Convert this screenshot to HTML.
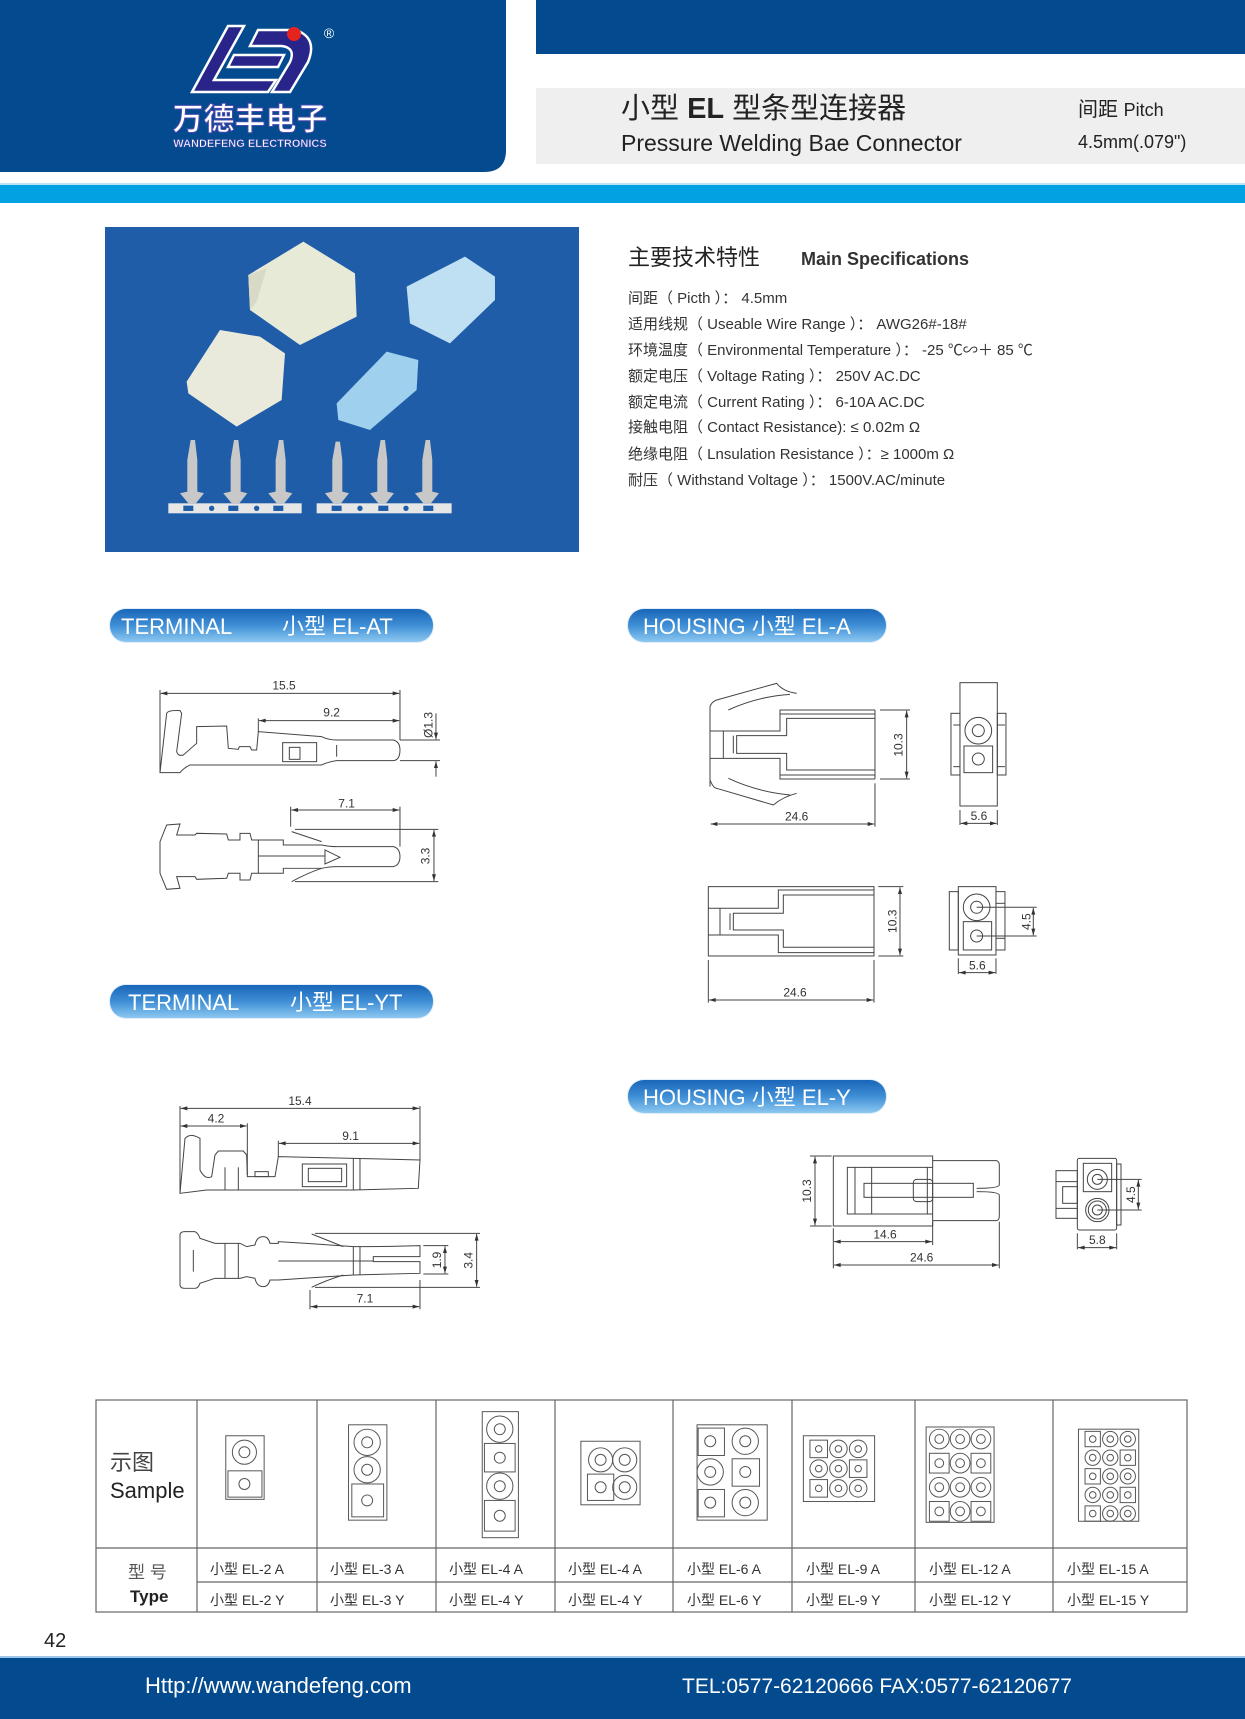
<!DOCTYPE html>
<html><head><meta charset="utf-8">
<style>
html,body{margin:0;padding:0;background:#fff;}
svg{display:block;font-family:"Liberation Sans","Noto Sans CJK SC",sans-serif;}
</style></head><body>
<svg width="1245" height="1719" viewBox="0 0 1245 1719" xmlns="http://www.w3.org/2000/svg">
<defs>
<linearGradient id="pill" x1="0" y1="0" x2="0" y2="1">
<stop offset="0" stop-color="#1a66b8"/><stop offset="0.5" stop-color="#3f8fd6"/><stop offset="1" stop-color="#8cc8f0"/>
</linearGradient>
<marker id="a" viewBox="0 0 10 6" refX="10" refY="3" markerWidth="8" markerHeight="4" orient="auto-start-reverse" markerUnits="strokeWidth">
<path d="M0,0 L10,3 L0,6 Z" fill="#333"/></marker>
</defs>

<!-- HEADER -->
<path d="M0,0 H506 V150 Q506,172 484,172 H0 Z" fill="#034a8f"/>
<rect x="536" y="0" width="709" height="54" fill="#034a8f"/>
<rect x="536" y="88" width="709" height="76" fill="#efefef"/>
<rect x="0" y="183" width="1245" height="2" fill="#bfe3f5"/>
<rect x="0" y="185" width="1245" height="18" fill="#00a2e2"/>
<!-- logo -->
<g>
<path d="M228,26 L192,92 L268,92 L276,80 L214,80 L244,26 Z" fill="#28248a" stroke="#fff" stroke-width="2.5"/>
<path d="M258,30 L296,30 Q318,38 308,62 L290,92 L272,92 L290,62 Q296,48 282,46 L250,46 Z" fill="#28248a" stroke="#fff" stroke-width="2.5"/>
<path d="M234,55 L284,55 L278,67 L228,67 Z" fill="#28248a" stroke="#fff" stroke-width="2.5"/>
<circle cx="294" cy="34" r="7" fill="#e52420"/>
<text x="329" y="38" font-size="14" fill="#fff" text-anchor="middle">®</text>
<text x="250" y="130" font-size="31" font-weight="bold" fill="#fff" stroke="#4a4ab0" stroke-width="1" text-anchor="middle">万德丰电子</text>
<text x="250" y="147" font-size="11" font-weight="bold" fill="#fff" stroke="#4a4ab0" stroke-width="0.5" text-anchor="middle">WANDEFENG ELECTRONICS</text>
</g>
<text x="621" y="118" font-size="29" fill="#222">小型 <tspan font-weight="bold">EL</tspan> 型条型连接器</text>
<text x="621" y="151" font-size="23" fill="#222">Pressure Welding Bae Connector</text>
<text x="1078" y="116" font-size="20" fill="#222">间距 <tspan font-size="18">Pitch</tspan></text>
<text x="1078" y="148" font-size="18" fill="#222">4.5mm(.079")</text>

<!-- PHOTO -->
<rect x="105" y="227" width="474" height="325" fill="#1f5da8"/>
<g transform="translate(100,220) scale(0.3333)">
<polygon points="445,165 610,65 765,160 770,290 600,375 450,270" fill="#e8ead8"/>
<polygon points="445,165 500,145 470,245 450,270" fill="#d8dac6"/>
<polygon points="260,485 360,330 480,350 555,400 545,540 410,620 265,520" fill="#eaeadc"/>
<polygon points="920,200 1095,110 1185,170 1185,240 1050,370 930,310" fill="#bfe0f2"/>
<polygon points="710,550 860,395 955,420 950,510 810,630 715,600" fill="#9fd0ee"/>
<rect x="205" y="850" width="400" height="30" fill="#e6e6e6"/>
<rect x="650" y="850" width="405" height="30" fill="#e6e6e6"/>
<g fill="#1f5da8"><rect x="250" y="857" width="30" height="16"/><rect x="385" y="857" width="30" height="16"/><rect x="520" y="857" width="30" height="16"/><rect x="695" y="857" width="30" height="16"/><rect x="835" y="857" width="30" height="16"/><rect x="970" y="857" width="30" height="16"/>
<circle cx="335" cy="865" r="8"/><circle cx="470" cy="865" r="8"/><circle cx="780" cy="865" r="8"/><circle cx="918" cy="865" r="8"/></g>
<g fill="#c8c8c8">
<path d="M265,850 L240,820 L262,815 L262,720 L272,660 L285,660 L292,720 L292,815 L312,820 L288,850Z"/>
<path d="M395,850 L370,820 L392,815 L392,720 L402,660 L415,660 L422,720 L422,815 L442,820 L418,850Z"/>
<path d="M530,850 L505,820 L527,815 L527,720 L537,660 L550,660 L557,720 L557,815 L577,820 L553,850Z"/>
<path d="M700,850 L675,820 L697,815 L697,720 L707,665 L720,665 L727,720 L727,815 L747,820 L723,850Z"/>
<path d="M835,850 L810,820 L832,815 L832,720 L842,660 L855,660 L862,720 L862,815 L882,820 L858,850Z"/>
<path d="M970,850 L945,820 L967,815 L967,720 L977,660 L990,660 L997,720 L997,815 L1017,820 L993,850Z"/>
</g>
</g>

<!-- SPECS -->
<text x="628" y="265" font-size="22" fill="#222">主要技术特性 <tspan x="801" font-size="18" font-weight="bold" fill="#333">Main Specifications</tspan></text>
<g font-size="15" fill="#333">
<text x="628" y="303">间距（ Picth ）： 4.5mm</text>
<text x="628" y="329">适用线规（ Useable Wire Range ）： AWG26#-18#</text>
<text x="628" y="355">环境温度（ Environmental Temperature ）： -25 ℃∽＋ 85 ℃</text>
<text x="628" y="381">额定电压（ Voltage Rating ）： 250V AC.DC</text>
<text x="628" y="407">额定电流（ Current Rating ）： 6-10A AC.DC</text>
<text x="628" y="432">接触电阻（ Contact Resistance): ≤ 0.02m Ω</text>
<text x="628" y="459">绝缘电阻（ Lnsulation Resistance ）：≥ 1000m Ω</text>
<text x="628" y="485">耐压（ Withstand Voltage ）： 1500V.AC/minute</text>
</g>

<!-- PILLS -->
<g font-size="22" fill="#fff">
<rect x="109" y="608" width="325" height="35" rx="17" fill="#dfeef9"/>
<rect x="110" y="609" width="323" height="33" rx="16" fill="url(#pill)"/>
<text x="121" y="634">TERMINAL</text><text x="282" y="634">小型  EL-AT</text>
<rect x="627" y="608" width="260" height="35" rx="17" fill="#dfeef9"/>
<rect x="628" y="609" width="258" height="33" rx="16" fill="url(#pill)"/>
<text x="643" y="634">HOUSING  小型  EL-A</text>
<rect x="109" y="984" width="325" height="35" rx="17" fill="#dfeef9"/>
<rect x="110" y="985" width="323" height="33" rx="16" fill="url(#pill)"/>
<text x="128" y="1010">TERMINAL</text><text x="290" y="1010">小型  EL-YT</text>
<rect x="627" y="1079" width="260" height="35" rx="17" fill="#dfeef9"/>
<rect x="628" y="1080" width="258" height="33" rx="16" fill="url(#pill)"/>
<text x="643" y="1105">HOUSING  小型  EL-Y</text>
</g>

<!-- TERMINAL EL-AT -->
<g transform="translate(140,660) scale(0.3333)" fill="none" stroke="#444" stroke-width="3" font-size="36">
<path d="M60,338 L80,160 Q85,150 120,152 L125,160 L110,275 Q115,290 130,285 L170,250 L170,200 L260,198 L265,265 L295,268 L298,260 L330,260 L335,270 L350,270 L355,215 L545,230 Q565,240 590,240 L760,240 Q780,245 780,270 Q780,300 760,302 L590,302 Q565,305 545,315 L150,315 Q130,325 120,338 Z"/>
<rect x="428" y="248" width="102" height="57"/><rect x="448" y="262" width="32" height="36"/>
<line x1="590" y1="255" x2="590" y2="290"/>
<line x1="60" y1="90" x2="60" y2="338"/><line x1="780" y1="90" x2="780" y2="240"/>
<line x1="355" y1="175" x2="355" y2="215"/>
<line x1="62" y1="100" x2="778" y2="100" marker-start="url(#a)" marker-end="url(#a)"/>
<line x1="357" y1="182" x2="778" y2="182" marker-start="url(#a)" marker-end="url(#a)"/>
<line x1="780" y1="240" x2="900" y2="240"/><line x1="780" y1="302" x2="900" y2="302"/>
<line x1="888" y1="160" x2="888" y2="238" marker-end="url(#a)"/><line x1="888" y1="350" x2="888" y2="304" marker-end="url(#a)"/>
<text x="432" y="88" fill="#333" stroke="none" text-anchor="middle">15.5</text>
<text x="575" y="170" fill="#333" stroke="none" text-anchor="middle">9.2</text>
<text transform="translate(878,195) rotate(-90)" fill="#333" stroke="none" text-anchor="middle">Ø1.3</text>
<path d="M60,545 L80,495 L120,492 L110,525 L165,525 L170,520 L260,522 L265,540 L300,540 L300,520 L330,520 L335,540 L430,540 L430,555 L545,555 Q570,560 590,560 L760,560 Q780,565 780,590 Q780,615 760,620 L590,620 Q570,620 545,625 L430,625 L430,640 L335,640 L330,660 L300,660 L300,640 L265,640 L260,655 L170,658 L165,650 L110,650 L120,685 L80,688 L60,640 Z"/>
<line x1="355" y1="540" x2="355" y2="640"/>
<line x1="355" y1="588" x2="555" y2="588"/>
<path d="M555,570 L600,592 L555,612 Z"/>
<path d="M455,515 Q500,530 545,545"/><path d="M455,665 Q500,640 545,625"/>
<line x1="452" y1="440" x2="452" y2="500"/><line x1="780" y1="440" x2="780" y2="560"/>
<line x1="454" y1="450" x2="778" y2="450" marker-start="url(#a)" marker-end="url(#a)"/>
<line x1="465" y1="508" x2="895" y2="508"/><line x1="465" y1="665" x2="895" y2="665"/>
<line x1="882" y1="510" x2="882" y2="663" marker-start="url(#a)" marker-end="url(#a)"/>
<text x="620" y="442" fill="#333" stroke="none" text-anchor="middle">7.1</text>
<text transform="translate(868,588) rotate(-90)" fill="#333" stroke="none" text-anchor="middle">3.3</text>
</g>

<!-- HOUSING EL-A -->
<g transform="translate(690,660) scale(0.3333)" fill="none" stroke="#444" stroke-width="3" font-size="36">
<path d="M555,150 L270,150 L270,213 L60,213"/>
<path d="M555,175 L290,175 L290,227 L140,227 L140,280 L290,280 L290,330 L555,330"/>
<path d="M555,357 L270,357 L270,295 L60,295"/>
<line x1="555" y1="150" x2="555" y2="357"/><line x1="270" y1="162" x2="555" y2="162"/><line x1="270" y1="345" x2="555" y2="345"/>
<line x1="100" y1="213" x2="100" y2="295"/><line x1="130" y1="227" x2="130" y2="280"/>
<path d="M60,380 L60,140 Q65,125 80,120 L260,70 Q280,95 320,100"/>
<path d="M115,150 Q200,110 300,103"/>
<path d="M60,360 Q70,385 80,385 L250,435 Q280,410 320,400"/>
<path d="M115,355 Q200,395 300,405"/>
<line x1="570" y1="150" x2="660" y2="150"/><line x1="570" y1="357" x2="660" y2="357"/>
<line x1="650" y1="152" x2="650" y2="355" marker-start="url(#a)" marker-end="url(#a)"/>
<line x1="555" y1="370" x2="555" y2="500"/>
<line x1="62" y1="492" x2="553" y2="492" marker-start="url(#a)" marker-end="url(#a)"/>
<text transform="translate(638,255) rotate(-90)" fill="#333" stroke="none" text-anchor="middle">10.3</text>
<text x="320" y="482" fill="#333" stroke="none" text-anchor="middle">24.6</text>
<rect x="810" y="68" width="112" height="370"/>
<rect x="783" y="160" width="27" height="185"/><rect x="922" y="160" width="26" height="185"/>
<line x1="790" y1="195" x2="810" y2="195"/><line x1="790" y1="320" x2="810" y2="320"/>
<line x1="922" y1="195" x2="945" y2="195"/><line x1="922" y1="320" x2="945" y2="320"/>
<circle cx="865" cy="212" r="40"/><circle cx="865" cy="212" r="18"/>
<rect x="822" y="258" width="86" height="80"/><circle cx="865" cy="297" r="18"/>
<line x1="810" y1="450" x2="810" y2="495"/><line x1="922" y1="450" x2="922" y2="495"/>
<line x1="812" y1="490" x2="920" y2="490" marker-start="url(#a)" marker-end="url(#a)"/>
<text x="867" y="480" fill="#333" stroke="none" text-anchor="middle">5.6</text>
<rect x="55" y="680" width="497" height="208"/>
<path d="M552,690 L265,690 L265,745 L55,745"/>
<path d="M552,705 L280,705 L280,760 L130,760 L130,810 L280,810 L280,862 L552,862"/>
<path d="M552,878 L265,878 L265,825 L55,825"/>
<line x1="90" y1="745" x2="90" y2="825"/><line x1="120" y1="760" x2="120" y2="810"/>
<line x1="565" y1="680" x2="640" y2="680"/><line x1="565" y1="888" x2="640" y2="888"/>
<line x1="630" y1="682" x2="630" y2="886" marker-start="url(#a)" marker-end="url(#a)"/>
<text transform="translate(620,784) rotate(-90)" fill="#333" stroke="none" text-anchor="middle">10.3</text>
<line x1="55" y1="900" x2="55" y2="1028"/><line x1="552" y1="900" x2="552" y2="1028"/>
<line x1="57" y1="1020" x2="550" y2="1020" marker-start="url(#a)" marker-end="url(#a)"/>
<text x="315" y="1010" fill="#333" stroke="none" text-anchor="middle">24.6</text>
<rect x="805" y="680" width="113" height="205"/>
<rect x="778" y="695" width="27" height="175"/><rect x="918" y="695" width="27" height="175"/>
<line x1="918" y1="730" x2="945" y2="730"/><line x1="918" y1="835" x2="945" y2="835"/>
<circle cx="860" cy="742" r="40"/><circle cx="860" cy="742" r="18"/>
<rect x="820" y="785" width="85" height="85"/><circle cx="860" cy="828" r="18"/>
<line x1="860" y1="742" x2="1040" y2="742"/><line x1="860" y1="828" x2="1040" y2="828"/>
<line x1="1030" y1="744" x2="1030" y2="826" marker-start="url(#a)" marker-end="url(#a)"/>
<text transform="translate(1022,785) rotate(-90)" fill="#333" stroke="none" text-anchor="middle">4.5</text>
<line x1="805" y1="895" x2="805" y2="942"/><line x1="918" y1="895" x2="918" y2="942"/>
<line x1="807" y1="938" x2="916" y2="938" marker-start="url(#a)" marker-end="url(#a)"/>
<text x="862" y="928" fill="#333" stroke="none" text-anchor="middle">5.6</text>
</g>

<!-- TERMINAL EL-YT -->
<g transform="translate(140,1080) scale(0.3333)" fill="none" stroke="#444" stroke-width="3" font-size="36">
<line x1="120" y1="78" x2="120" y2="340"/><line x1="322" y1="130" x2="322" y2="285"/>
<line x1="415" y1="182" x2="415" y2="230"/><line x1="840" y1="78" x2="840" y2="240"/>
<line x1="122" y1="85" x2="838" y2="85" marker-start="url(#a)" marker-end="url(#a)"/>
<line x1="122" y1="138" x2="320" y2="138" marker-start="url(#a)" marker-end="url(#a)"/>
<line x1="417" y1="190" x2="838" y2="190" marker-start="url(#a)" marker-end="url(#a)"/>
<text x="480" y="75" fill="#333" stroke="none" text-anchor="middle">15.4</text>
<text x="228" y="128" fill="#333" stroke="none" text-anchor="middle">4.2</text>
<text x="632" y="180" fill="#333" stroke="none" text-anchor="middle">9.1</text>
<path d="M120,340 L135,175 Q150,160 170,170 L180,175 L180,270 Q195,300 215,290 L225,225 L235,213 L310,213 L320,225 L322,290 L405,290 L415,230 L640,235 L840,240 L835,325 L640,330 L200,330 Q160,335 120,340 Z"/>
<rect x="487" y="252" width="133" height="68"/><rect x="505" y="265" width="100" height="40"/>
<line x1="640" y1="235" x2="640" y2="330"/><line x1="660" y1="236" x2="660" y2="330"/>
<line x1="255" y1="262" x2="255" y2="330"/><line x1="295" y1="262" x2="295" y2="330"/>
<rect x="345" y="275" width="40" height="15"/>
<path d="M120,465 Q120,455 135,455 L165,455 Q175,460 180,475 L225,490 L300,490 L320,500 L345,495 Q350,470 370,470 Q385,470 390,490 L415,490 L415,485 L500,490 L640,500 Q750,500 840,497 L840,530 L700,530 L700,545 L840,545 L840,580 L640,585 L415,600 L390,600 Q385,620 370,620 Q350,620 345,595 L320,590 L300,595 L225,595 L180,610 Q175,625 165,625 L135,625 Q120,625 120,615 Z"/>
<line x1="415" y1="543" x2="700" y2="543"/><line x1="255" y1="490" x2="255" y2="595"/><line x1="295" y1="490" x2="295" y2="595"/>
<line x1="640" y1="500" x2="640" y2="585"/><line x1="660" y1="500" x2="660" y2="585"/>
<line x1="160" y1="510" x2="160" y2="575"/>
<path d="M515,462 Q560,480 610,500"/><path d="M515,622 Q560,600 610,585"/>
<line x1="525" y1="460" x2="1020" y2="460"/><line x1="525" y1="622" x2="1020" y2="622"/>
<line x1="850" y1="497" x2="925" y2="497"/><line x1="850" y1="582" x2="925" y2="582"/>
<line x1="915" y1="499" x2="915" y2="580" marker-start="url(#a)" marker-end="url(#a)"/>
<line x1="1010" y1="462" x2="1010" y2="620" marker-start="url(#a)" marker-end="url(#a)"/>
<text transform="translate(903,540) rotate(-90)" fill="#333" stroke="none" text-anchor="middle">1.9</text>
<text transform="translate(998,541) rotate(-90)" fill="#333" stroke="none" text-anchor="middle">3.4</text>
<line x1="510" y1="630" x2="510" y2="688"/><line x1="840" y1="600" x2="840" y2="688"/>
<line x1="512" y1="680" x2="838" y2="680" marker-start="url(#a)" marker-end="url(#a)"/>
<text x="675" y="668" fill="#333" stroke="none" text-anchor="middle">7.1</text>
</g>

<!-- HOUSING EL-Y -->
<g transform="translate(790,1140) scale(0.3333)" fill="none" stroke="#444" stroke-width="3" font-size="36">
<rect x="130" y="48" width="298" height="210"/>
<path d="M428,82 L172,82 L172,222 L428,222"/>
<line x1="195" y1="82" x2="195" y2="222"/><line x1="245" y1="82" x2="245" y2="222"/><line x1="412" y1="82" x2="412" y2="222"/>
<path d="M428,62 L620,62 Q628,65 628,75 L628,135 Q625,145 560,145"/>
<path d="M428,242 L620,242 Q628,240 628,228 L628,165 Q625,155 560,155"/>
<rect x="370" y="118" width="58" height="67" rx="10"/>
<rect x="222" y="130" width="328" height="42"/>
<line x1="60" y1="48" x2="125" y2="48"/><line x1="60" y1="258" x2="125" y2="258"/>
<line x1="75" y1="50" x2="75" y2="256" marker-start="url(#a)" marker-end="url(#a)"/>
<text transform="translate(63,153) rotate(-90)" fill="#333" stroke="none" text-anchor="middle">10.3</text>
<line x1="130" y1="265" x2="130" y2="385"/><line x1="428" y1="245" x2="428" y2="315"/><line x1="628" y1="245" x2="628" y2="385"/>
<line x1="132" y1="305" x2="426" y2="305" marker-start="url(#a)" marker-end="url(#a)"/>
<line x1="132" y1="375" x2="626" y2="375" marker-start="url(#a)" marker-end="url(#a)"/>
<text x="285" y="295" fill="#333" stroke="none" text-anchor="middle">14.6</text>
<text x="395" y="365" fill="#333" stroke="none" text-anchor="middle">24.6</text>
</g>
<g transform="translate(1040,1150) scale(0.3333)" fill="none" stroke="#444" stroke-width="3" font-size="36">
<rect x="112" y="25" width="118" height="215" rx="6"/>
<rect x="48" y="62" width="64" height="143"/><rect x="230" y="42" width="13" height="183"/>
<rect x="68" y="110" width="44" height="50"/><line x1="48" y1="95" x2="112" y2="95"/><line x1="48" y1="175" x2="112" y2="175"/>
<rect x="130" y="40" width="85" height="85"/>
<circle cx="172" cy="88" r="30"/><circle cx="172" cy="88" r="15"/>
<circle cx="172" cy="180" r="35"/><circle cx="172" cy="180" r="27"/><circle cx="172" cy="180" r="15"/>
<line x1="172" y1="88" x2="305" y2="88"/><line x1="172" y1="180" x2="305" y2="180"/>
<line x1="295" y1="90" x2="295" y2="178" marker-start="url(#a)" marker-end="url(#a)"/>
<text transform="translate(285,134) rotate(-90)" fill="#333" stroke="none" text-anchor="middle">4.5</text>
<line x1="112" y1="250" x2="112" y2="298"/><line x1="230" y1="250" x2="230" y2="298"/>
<line x1="114" y1="293" x2="228" y2="293" marker-start="url(#a)" marker-end="url(#a)"/>
<text x="172" y="282" fill="#333" stroke="none" text-anchor="middle">5.8</text>
</g>

<!-- TABLE -->
<g fill="none" stroke="#666" stroke-width="1.2">
<rect x="96" y="1400" width="1091" height="212"/>
<line x1="197" y1="1400" x2="197" y2="1612"/><line x1="317" y1="1400" x2="317" y2="1612"/>
<line x1="436" y1="1400" x2="436" y2="1612"/><line x1="555" y1="1400" x2="555" y2="1612"/>
<line x1="673" y1="1400" x2="673" y2="1612"/><line x1="792" y1="1400" x2="792" y2="1612"/>
<line x1="915" y1="1400" x2="915" y2="1612"/><line x1="1053" y1="1400" x2="1053" y2="1612"/>
<line x1="96" y1="1548" x2="1187" y2="1548"/><line x1="197" y1="1582" x2="1187" y2="1582"/>
</g>
<g transform="scale(1.096)" fill="none" stroke="#555" stroke-width="0.9">
<rect x="206" y="1310" width="35" height="58"/><circle cx="223" cy="1325" r="11"/><circle cx="223" cy="1325" r="5"/><rect x="208" y="1342" width="31" height="24"/><circle cx="223" cy="1354" r="5"/>
<rect x="318" y="1300" width="35" height="87"/><circle cx="335" cy="1316" r="12"/><circle cx="335" cy="1316" r="5"/><circle cx="335" cy="1341" r="12"/><circle cx="335" cy="1341" r="5"/><rect x="321" y="1354" width="29" height="30"/><circle cx="335" cy="1369" r="5"/>
<rect x="440" y="1288" width="33" height="115"/><circle cx="456" cy="1304" r="12"/><circle cx="456" cy="1304" r="5"/><rect x="442" y="1317" width="28" height="26"/><circle cx="456" cy="1330" r="5"/><circle cx="456" cy="1356" r="12"/><circle cx="456" cy="1356" r="5"/><rect x="442" y="1369" width="28" height="28"/><circle cx="456" cy="1383" r="5"/>
<rect x="530" y="1315" width="54" height="58"/><circle cx="548" cy="1332" r="11"/><circle cx="548" cy="1332" r="5"/><circle cx="570" cy="1332" r="11"/><circle cx="570" cy="1332" r="5"/><circle cx="570" cy="1357" r="11"/><circle cx="570" cy="1357" r="5"/><rect x="536" y="1345" width="24" height="24"/><circle cx="548" cy="1357" r="5"/>
<rect x="636" y="1300" width="64" height="87"/>
<rect x="637" y="1303" width="24" height="25"/><circle cx="648" cy="1315" r="5"/><circle cx="680" cy="1315" r="12"/><circle cx="680" cy="1315" r="5"/>
<circle cx="648" cy="1343" r="12"/><circle cx="648" cy="1343" r="5"/><rect x="668" y="1331" width="25" height="25"/><circle cx="680" cy="1343" r="5"/>
<rect x="637" y="1359" width="24" height="25"/><circle cx="648" cy="1371" r="5"/><circle cx="680" cy="1371" r="12"/><circle cx="680" cy="1371" r="5"/>
<rect x="733" y="1310" width="65" height="60"/>
<rect x="739" y="1314" width="16" height="16"/><circle cx="747" cy="1322" r="3"/><circle cx="765" cy="1322" r="8"/><circle cx="765" cy="1322" r="3"/><circle cx="783" cy="1322" r="8"/><circle cx="783" cy="1322" r="3"/>
<circle cx="747" cy="1340" r="8"/><circle cx="747" cy="1340" r="3"/><circle cx="765" cy="1340" r="8"/><circle cx="765" cy="1340" r="3"/><rect x="775" y="1332" width="16" height="16"/><circle cx="783" cy="1340" r="3"/>
<rect x="739" y="1350" width="16" height="16"/><circle cx="747" cy="1358" r="3"/><circle cx="765" cy="1358" r="8"/><circle cx="765" cy="1358" r="3"/><circle cx="783" cy="1358" r="8"/><circle cx="783" cy="1358" r="3"/>
<rect x="845" y="1302" width="62" height="87"/>
<circle cx="857" cy="1313" r="9"/><circle cx="857" cy="1313" r="4"/><circle cx="876" cy="1313" r="9"/><circle cx="876" cy="1313" r="4"/><circle cx="895" cy="1313" r="9"/><circle cx="895" cy="1313" r="4"/>
<rect x="848" y="1326" width="18" height="18"/><circle cx="857" cy="1335" r="4"/><circle cx="876" cy="1335" r="9"/><circle cx="876" cy="1335" r="4"/><rect x="886" y="1326" width="18" height="18"/><circle cx="895" cy="1335" r="4"/>
<circle cx="857" cy="1357" r="9"/><circle cx="857" cy="1357" r="4"/><circle cx="876" cy="1357" r="9"/><circle cx="876" cy="1357" r="4"/><circle cx="895" cy="1357" r="9"/><circle cx="895" cy="1357" r="4"/>
<rect x="848" y="1370" width="18" height="18"/><circle cx="857" cy="1379" r="4"/><circle cx="876" cy="1379" r="9"/><circle cx="876" cy="1379" r="4"/><rect x="886" y="1370" width="18" height="18"/><circle cx="895" cy="1379" r="4"/>
<rect x="984" y="1304" width="55" height="84"/>
<rect x="990" y="1306" width="14" height="14"/><circle cx="997" cy="1313" r="3"/><circle cx="1013" cy="1313" r="7"/><circle cx="1013" cy="1313" r="3"/><circle cx="1029" cy="1313" r="7"/><circle cx="1029" cy="1313" r="3"/>
<circle cx="997" cy="1330" r="7"/><circle cx="997" cy="1330" r="3"/><circle cx="1013" cy="1330" r="7"/><circle cx="1013" cy="1330" r="3"/><rect x="1022" y="1323" width="14" height="14"/><circle cx="1029" cy="1330" r="3"/>
<rect x="990" y="1340" width="14" height="14"/><circle cx="997" cy="1347" r="3"/><circle cx="1013" cy="1347" r="7"/><circle cx="1013" cy="1347" r="3"/><circle cx="1029" cy="1347" r="7"/><circle cx="1029" cy="1347" r="3"/>
<circle cx="997" cy="1364" r="7"/><circle cx="997" cy="1364" r="3"/><circle cx="1013" cy="1364" r="7"/><circle cx="1013" cy="1364" r="3"/><rect x="1022" y="1357" width="14" height="14"/><circle cx="1029" cy="1364" r="3"/>
<rect x="990" y="1374" width="14" height="14"/><circle cx="997" cy="1381" r="3"/><circle cx="1013" cy="1381" r="7"/><circle cx="1013" cy="1381" r="3"/><circle cx="1029" cy="1381" r="7"/><circle cx="1029" cy="1381" r="3"/>
</g>
<g fill="#222">
<text x="110" y="1470" font-size="22" fill="#444">示图</text>
<text x="110" y="1498" font-size="22">Sample</text>
<text x="128" y="1578" font-size="17" fill="#555">型 号</text>
<text x="130" y="1602" font-size="17" font-weight="bold">Type</text>
</g>
<g font-size="14" fill="#333">
<text x="210" y="1574">小型 EL-2 A</text><text x="210" y="1605">小型 EL-2 Y</text>
<text x="330" y="1574">小型 EL-3 A</text><text x="330" y="1605">小型 EL-3 Y</text>
<text x="449" y="1574">小型 EL-4 A</text><text x="449" y="1605">小型 EL-4 Y</text>
<text x="568" y="1574">小型 EL-4 A</text><text x="568" y="1605">小型 EL-4 Y</text>
<text x="687" y="1574">小型 EL-6 A</text><text x="687" y="1605">小型 EL-6 Y</text>
<text x="806" y="1574">小型 EL-9 A</text><text x="806" y="1605">小型 EL-9 Y</text>
<text x="929" y="1574">小型 EL-12 A</text><text x="929" y="1605">小型 EL-12 Y</text>
<text x="1067" y="1574">小型 EL-15 A</text><text x="1067" y="1605">小型 EL-15 Y</text>
</g>

<text x="44" y="1647" font-size="20" fill="#222">42</text>

<!-- FOOTER -->
<rect x="0" y="1656" width="1245" height="2" fill="#9cc6e8"/>
<rect x="0" y="1658" width="1245" height="61" fill="#034a8f"/>
<text x="145" y="1693" font-size="22" fill="#fff">Http://www.wandefeng.com</text>
<text x="682" y="1693" font-size="21" fill="#fff">TEL:0577-62120666  FAX:0577-62120677</text>
</svg>
</body></html>
